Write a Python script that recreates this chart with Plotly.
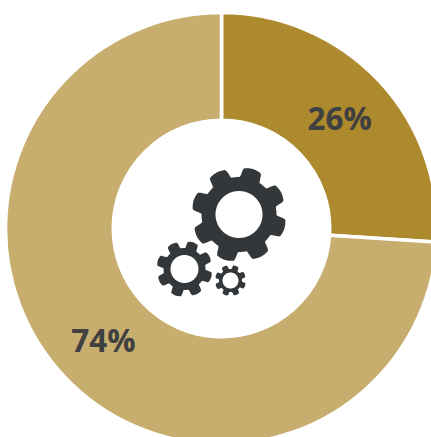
import numpy as np
import plotly.graph_objects as go

# Share of each segment, clockwise from twelve o'clock
segments = ["Part A", "Part B"]
shares = [26, 74]
segment_colors = ["#AE8A2F", "#C7AD6E"]

# Canvas is a little larger than the window so the ring runs off the right and bottom
CANVAS_W, CANVAS_H = 443, 456
RING_RADIUS = 216
HOLE_RADIUS = 108.2
CENTER_X, CENTER_Y = 221.5, 228.5

GEAR_COLOR = "#33373A"
# center x, center y, tip radius, root radius, bore radius, tooth phase (all in canvas pixels / degrees)
gears = [
    (239, 214.5, 47.5, 37.5, 23.5, 17),
    (184.5, 269, 28, 21, 14, 18),
    (230.5, 280.5, 15.5, 11.5, 8, 21),
]


def gear_path(cx, cy, tip, root, bore, phase, teeth=8):
    """Closed SVG path in paper coordinates: toothed rim plus a circular bore."""
    count = 1440
    angles = np.linspace(0, 2 * np.pi, count, endpoint=False)
    wave = np.cos(teeth * (angles - np.radians(phase)))
    # Broad square-ish teeth, then a circular moving average to round every corner
    square = (wave > -0.3).astype(float)
    window = count // 45
    kernel = np.hanning(window)
    kernel /= kernel.sum()
    pad = np.concatenate([square[-window:], square, square[:window]])
    blend = np.convolve(pad, kernel, mode="same")[window:-window]
    # Domed tooth tops
    radius = root + (tip - root) * blend * (0.9 + 0.1 * np.clip(wave, 0, 1))

    def to_paper(r, a):
        px = cx + r * np.sin(a)
        py = cy - r * np.cos(a)
        return px / CANVAS_W, 1 - py / CANVAS_H

    rim = [to_paper(r, a) for r, a in zip(radius[::2], angles[::2])]
    hole = [to_paper(bore, a) for a in np.linspace(0, 2 * np.pi, 120, endpoint=False)]
    parts = []
    for loop in (rim, hole):
        parts.append("M" + " L".join(f"{x:.5f},{y:.5f}" for x, y in loop) + " Z")
    return " ".join(parts)


fig = go.Figure(
    go.Pie(
        labels=segments,
        values=shares,
        sort=False,
        direction="clockwise",
        rotation=0,
        hole=HOLE_RADIUS / RING_RADIUS,
        marker=dict(colors=segment_colors, line=dict(color="white", width=3.6)),
        textinfo="percent",
        texttemplate="%{value}%",
        textposition="inside",
        insidetextorientation="horizontal",
        textfont=dict(family="Open Sans", size=31.5, color="#404040", weight="bold"),
        domain=dict(
            x=[(CENTER_X - RING_RADIUS) / CANVAS_W, (CENTER_X + RING_RADIUS) / CANVAS_W],
            y=[1 - (CENTER_Y + RING_RADIUS) / CANVAS_H, 1 - (CENTER_Y - RING_RADIUS) / CANVAS_H],
        ),
        hoverinfo="skip",
    )
)

fig.update_layout(
    width=CANVAS_W,
    height=CANVAS_H,
    margin=dict(l=0, r=0, t=0, b=0),
    paper_bgcolor="white",
    showlegend=False,
    shapes=[
        dict(
            type="path",
            xref="paper",
            yref="paper",
            path=gear_path(*g),
            fillcolor=GEAR_COLOR,
            fillrule="evenodd",
            line=dict(width=0),
            layer="above",
        )
        for g in gears
    ],
)

# The canvas overhangs the window; hide the overflow instead of showing scrollbars
fig.write_html(
    "out.html",
    config={"displayModeBar": False},
    post_script="document.documentElement.style.overflow='hidden';document.body.style.overflow='hidden';document.body.style.margin='0';",
)
